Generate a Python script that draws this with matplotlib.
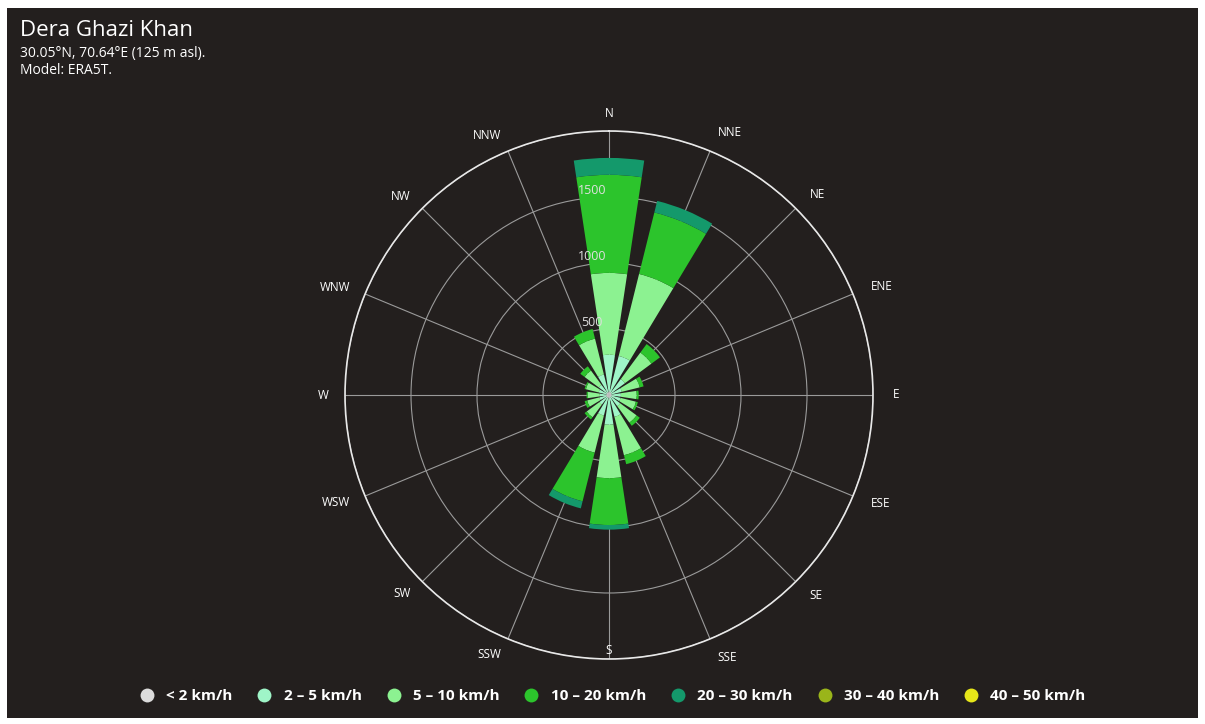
import numpy as np
import matplotlib.pyplot as plt
from matplotlib.patches import Rectangle

plt.rcParams['font.family'] = ['Open Sans', 'DejaVu Sans']

directions = ['N', 'NNE', 'NE', 'ENE', 'E', 'ESE', 'SE', 'SSE',
              'S', 'SSW', 'SW', 'WSW', 'W', 'WNW', 'NW', 'NNW']
speed_labels = ['< 2 km/h', '2 – 5 km/h', '5 – 10 km/h', '10 – 20 km/h',
                '20 – 30 km/h', '30 – 40 km/h', '40 – 50 km/h']
colors = ['#dcdcdc', '#9ff5c8', '#8cf291', '#2cc42c', '#14996b', '#9ab51a', '#e6e619']

# hours per direction, one list per speed class
below_2 = [25, 25, 20, 20, 20, 20, 20, 20, 25, 20, 20, 20, 20, 20, 20, 20]
s2_5 = [280, 280, 130, 80, 70, 70, 85, 150, 200, 140, 70, 55, 50, 60, 75, 140]
s5_10 = [620, 640, 250, 140, 120, 120, 155, 300, 405, 290, 120, 95, 90, 100, 135, 280]
s10_20 = [743, 480, 80, 30, 15, 15, 30, 70, 355, 380, 20, 20, 10, 10, 40, 75]
s20_30 = [128, 90, 0, 0, 0, 0, 0, 0, 35, 55, 0, 0, 0, 0, 0, 0]
s30_40 = [0] * 16
s40_50 = [0] * 16
series = [below_2, s2_5, s5_10, s10_20, s20_30, s30_40, s40_50]

bg = '#231f1e'
fig = plt.figure(figsize=(12.05, 7.24), dpi=100, facecolor='white')
fig.patches.append(Rectangle((7 / 1205, 6 / 724), 1191 / 1205, 710 / 724,
                             transform=fig.transFigure, facecolor=bg, edgecolor='none', zorder=-10))

ax = fig.add_axes([345 / 1205, 65 / 724, 528 / 1205, 528 / 724], projection='polar')
ax.set_facecolor(bg)
ax.set_theta_zero_location('N')
ax.set_theta_direction(-1)
ax.set_ylim(0, 2000)

theta = np.deg2rad(np.arange(16) * 22.5)
width = np.deg2rad(22.5) * 0.76
bottom = np.zeros(16)
for vals, c in zip(series, colors):
    vals = np.array(vals, dtype=float)
    ax.bar(theta, vals, width=width, bottom=bottom, color=c, edgecolor='none', zorder=3)
    bottom += vals

ax.set_xticks(theta)
ax.set_xticklabels([])
ax.set_yticks([500, 1000, 1500, 2000])
ax.set_yticklabels([])
ax.grid(True, color='#9a9a9a', lw=0.8, zorder=1)
ax.spines['polar'].set_color('#e8e8e8')
ax.spines['polar'].set_linewidth(1.2)
ax.tick_params(length=0)

# direction labels, aligned away from the circle
for t, name in zip(theta, directions):
    s = np.sin(t)
    if abs(s) < 0.01:
        ha = 'center'
        r = 2135 if np.cos(t) > 0 else 1935
    elif s > 0:
        ha = 'left'
        r = 2150
    else:
        ha = 'right'
        r = 2125
    ax.text(t, r, name, color='white', fontsize=8.5, ha=ha, va='center')

for val in [500, 1000, 1500]:
    ax.annotate(str(val), xy=(0, val), xytext=(-17, 7), textcoords='offset pixels',
                color='#e0e0e0', fontsize=9, ha='center', va='center', zorder=5)

fig.text(20 / 1205, 1 - 30 / 724, 'Dera Ghazi Khan', color='white', fontsize=16, va='center')
fig.text(20 / 1205, 1 - 53 / 724, '30.05°N, 70.64°E (125 m asl).', color='white', fontsize=10, va='center')
fig.text(20 / 1205, 1 - 70 / 724, 'Model: ERA5T.', color='white', fontsize=10, va='center')

handles = [plt.Line2D([], [], marker='o', ls='none', markersize=10, markerfacecolor=c,
                      markeredgecolor='none') for c in colors]
leg = fig.legend(handles, speed_labels, loc='center', bbox_to_anchor=(0.505, 1 - 696 / 724),
                 ncol=7, frameon=False, handletextpad=0.25, columnspacing=1.1,
                 prop={'weight': 'bold', 'size': 11})
for txt in leg.get_texts():
    txt.set_color('white')

fig.savefig('out.png', dpi=100, facecolor='white')
